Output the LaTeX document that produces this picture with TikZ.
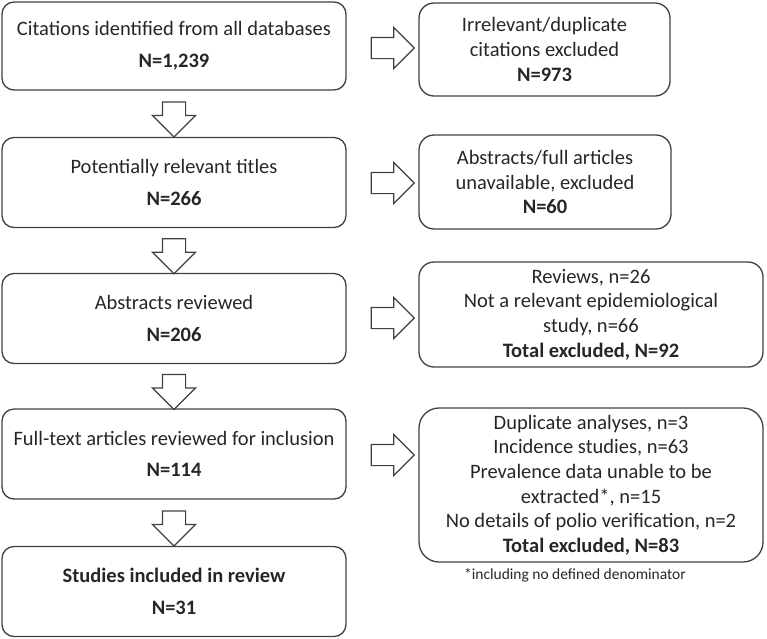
\documentclass[tikz,border=0pt]{standalone}
\usepackage{fontspec}
\setmainfont{Carlito}
\usetikzlibrary{shapes.arrows,calc}
\definecolor{ln}{HTML}{404040}
\definecolor{tx}{HTML}{262626}
\begin{document}
\begin{tikzpicture}[x=1pt,y=-1pt,
  box/.style={draw=ln, line width=1.3pt, rounded corners=12pt, text=tx, align=center, inner sep=0pt,
    font=\fontsize{20.5}{24.6}\selectfont},
  lbox/.style={box, minimum width=344pt, minimum height=90pt},
  rbox/.style={box, rounded corners=15pt},
  darr/.style={single arrow, draw=ln, line width=1.2pt, single arrow head extend=10pt,
    minimum width=0pt, minimum height=35pt, inner sep=11pt, shape border rotate=270},
  rarr/.style={single arrow, draw=ln, line width=1.2pt, single arrow head extend=10pt,
    minimum width=0pt, minimum height=43pt, inner sep=10pt}]
\useasboundingbox (0,0) rectangle (767,638);
% left column
\node[lbox, minimum height=88pt] (b1) at (174,46) {Citations identified from all databases\\[7pt]\textbf{N=1,239}};
\node[lbox] (b2) at (174,182.5) {Potentially relevant titles\\[7pt]\textbf{N=266}};
\node[lbox] (b3) at (174,318.5) {Abstracts reviewed\\[7pt]\textbf{N=206}};
\node[lbox] (b4) at (174,454) {Full-text articles reviewed for inclusion\\[7pt]\textbf{N=114}};
\node[lbox] (b5) at (174,591.5) {\textbf{Studies included in review}\\[7pt]\textbf{N=31}};
% right column
\node[rbox, minimum width=251pt, minimum height=93pt] (r1) at (544.5,49.5) {Irrelevant/duplicate\\citations excluded\\\textbf{N=973}};
\node[rbox, minimum width=252pt, minimum height=94pt] (r2) at (545,182) {Abstracts/full articles\\unavailable, excluded\\\textbf{N=60}};
\node[rbox, minimum width=344pt, minimum height=105pt] (r3) at (591,314.5) {Reviews, n=26\\Not a relevant epidemiological\\study, n=66\\\textbf{Total excluded, N=92}};
\node[rbox, rounded corners=20pt, minimum width=344pt, minimum height=154pt] (r4) at (591,485) {Duplicate analyses, n=3\\Incidence studies, n=63\\Prevalence data unable to be\\extracted*, n=15\\No details of polio verification, n=2\\\textbf{Total excluded, N=83}};
\node[text=tx, font=\fontsize{15.5}{18}\selectfont, inner sep=0pt] (fn) at (575,575) {*including no defined denominator};
% down arrows
\node[darr] (d1) at ($(b1.south)!0.5!(b2.north)$) {};
\node[darr] (d2) at ($(b2.south)!0.5!(b3.north)$) {};
\node[darr] (d3) at ($(b3.south)!0.5!(b4.north)$) {};
\node[darr] (d4) at ($(b4.south)!0.5!(b5.north)$) {};
% right arrows
\node[rarr] (a1) at (387.5,48) {};
\node[rarr] (a2) at (387.5,183) {};
\node[rarr] (a3) at (387.5,318) {};
\node[rarr] (a4) at (387.5,455) {};
\end{tikzpicture}
\end{document}
